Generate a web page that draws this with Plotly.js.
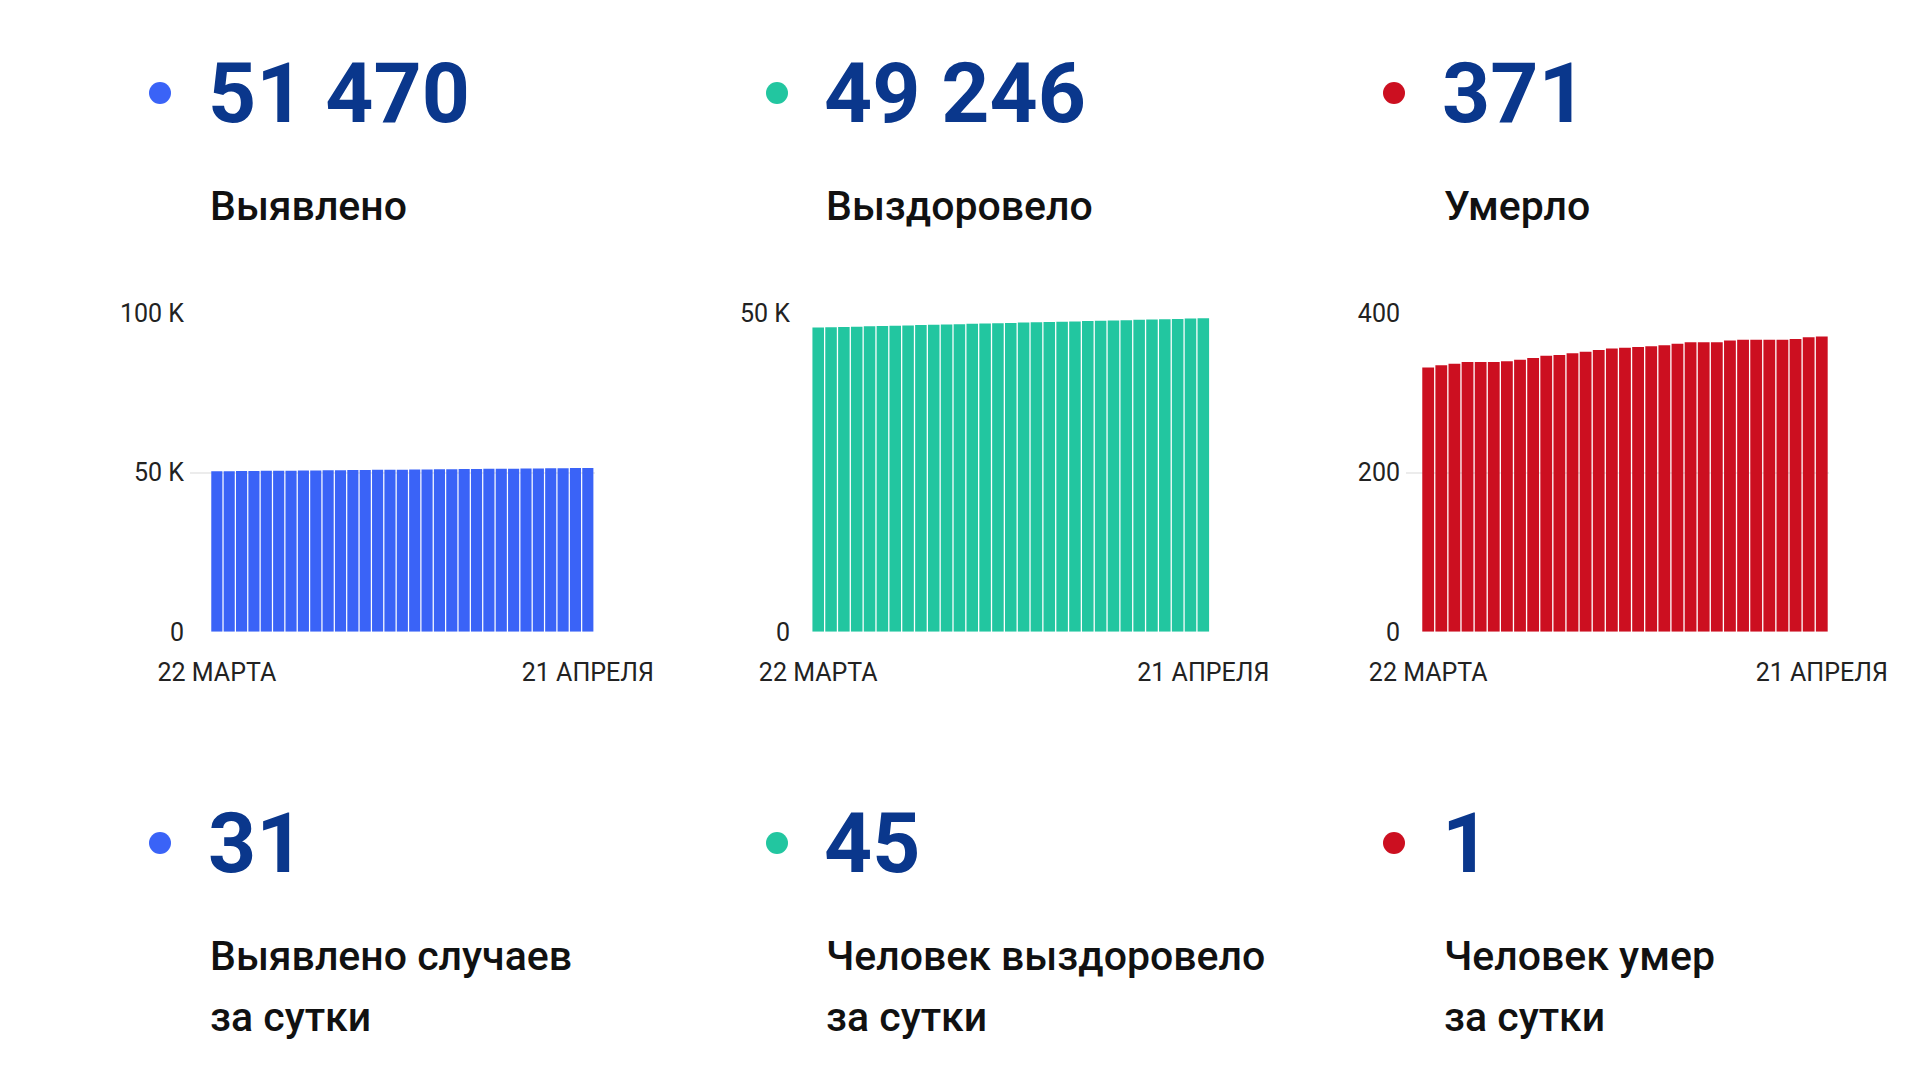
<!DOCTYPE html>
<html>
<head>
<meta charset="utf-8">
<script src="https://cdn.plot.ly/plotly-3.0.1.min.js"></script>
<style>
  html, body { margin: 0; padding: 0; background: #ffffff; }
  #chart { width: 1920px; height: 1080px; }
</style>
</head>
<body>
<div id="chart"></div>
<script>
// ---- data ----
const days = Array.from({length: 31}, (_, i) => i); // 22 марта .. 21 апреля
const dateTickVals = [0, 30];
const dateTickText = ["22 МАРТА", "21 АПРЕЛЯ"];

const detected = [50420, 50456, 50491, 50527, 50562, 50597, 50633, 50668, 50703, 50738,
                  50774, 50809, 50844, 50879, 50914, 50949, 50984, 51019, 51054, 51089,
                  51124, 51159, 51194, 51229, 51264, 51299, 51334, 51369, 51404, 51439, 51470];
const recovered = [47790, 47838, 47889, 47937, 47985, 48034, 48082, 48130, 48181, 48229,
                   48276, 48325, 48374, 48422, 48470, 48519, 48568, 48616, 48664, 48713,
                   48762, 48810, 48858, 48907, 48956, 49004, 49053, 49102, 49152, 49201, 49246];
const died = [332, 335, 337, 339, 339, 339, 340, 342, 344, 347,
              348, 350, 352, 354, 356, 357, 358, 359, 360, 362,
              364, 364, 364, 366, 367, 367, 367, 367, 368, 370, 371];

const totals = ["51 470", "49 246", "371"];
const totalLabels = ["Выявлено", "Выздоровело", "Умерло"];
const daily = ["31", "45", "1"];
const dailyLabels1 = ["Выявлено случаев", "Человек выздоровело", "Человек умер"];
const dailyLabels2 = ["за сутки", "за сутки", "за сутки"];

const yTicks1 = [0, 50000, 100000], yText1 = ["0", "50 K", "100 K"];
const yTicks2 = [0, 50000],          yText2 = ["0", "50 K"];
const yTicks3 = [0, 200, 400],       yText3 = ["0", "200", "400"];

// ---- styling ----
const W = 1920, H = 1080;
const colors = ["#3a63f7", "#22c6a0", "#cc0f20"];
const numColor = "#0a378c";
const txtColor = "#111111";
const font = "Roboto, 'Noto Sans', sans-serif";
const px = v => v / W;
const py = v => 1 - v / H;

const plotBox = [
  {x0: 190, x1: 595, range: [-2.17, 30.58]},
  {x0: 796, x1: 1210, range: [-1.73, 30.52]},
  {x0: 1406, x1: 1829, range: [-1.69, 30.55]}
];
const yTop = 313.5, yBot = 631.8;

function xaxis(i) {
  return {
    domain: [px(plotBox[i].x0), px(plotBox[i].x1)],
    anchor: i === 0 ? "y" : "y" + (i + 1),
    range: plotBox[i].range,
    tickmode: "array", tickvals: dateTickVals, ticktext: dateTickText,
    showgrid: false, zeroline: false, showline: false,
    ticks: "", ticklabelstandoff: 23,
    tickfont: {family: font, size: 25, color: "#222"},
    fixedrange: true
  };
}
function yaxis(i, range, tv, tt) {
  return {
    domain: [py(yBot), py(yTop)],
    anchor: i === 0 ? "x" : "x" + (i + 1),
    range: range,
    tickmode: "array", tickvals: tv, ticktext: tt,
    showgrid: true, gridcolor: "#ececec", gridwidth: 2,
    zeroline: false, showline: false, ticks: "",
    ticklabelstandoff: 5,
    tickfont: {family: font, size: 25, color: "#222"},
    fixedrange: true
  };
}

const series = [detected, recovered, died];
const traces = series.map((s, i) => ({
  type: "bar", x: days, y: s,
  xaxis: i === 0 ? "x" : "x" + (i + 1),
  yaxis: i === 0 ? "y" : "y" + (i + 1),
  marker: {color: colors[i], line: {width: 0}},
  hoverinfo: "skip", showlegend: false
}));

const colX = [206, 822, 1440];
const labX = [208, 824, 1442];
const dotX = [160, 777, 1394];
const annotations = [];
const shapes = [];
for (let i = 0; i < 3; i++) {
  annotations.push({text: "<b>" + totals[i] + "</b>", x: px(colX[i]), y: py(93), xref: "paper", yref: "paper",
    xanchor: "left", yanchor: "middle", showarrow: false,
    font: {family: font, size: 84, color: numColor, weight: 700}});
  annotations.push({text: totalLabels[i], x: px(labX[i]), y: py(206), xref: "paper", yref: "paper",
    xanchor: "left", yanchor: "middle", showarrow: false,
    font: {family: font, size: 41, color: txtColor, weight: 500}});
  annotations.push({text: "<b>" + daily[i] + "</b>", x: px(colX[i]), y: py(843), xref: "paper", yref: "paper",
    xanchor: "left", yanchor: "middle", showarrow: false,
    font: {family: font, size: 84, color: numColor, weight: 700}});
  annotations.push({text: dailyLabels1[i], x: px(labX[i]), y: py(956), xref: "paper", yref: "paper",
    xanchor: "left", yanchor: "middle", showarrow: false,
    font: {family: font, size: 41, color: txtColor, weight: 500}});
  annotations.push({text: dailyLabels2[i], x: px(labX[i]), y: py(1017), xref: "paper", yref: "paper",
    xanchor: "left", yanchor: "middle", showarrow: false,
    font: {family: font, size: 41, color: txtColor, weight: 500}});
  [93, 843].forEach(cy => shapes.push({type: "circle", xref: "paper", yref: "paper",
    x0: px(dotX[i] - 11), x1: px(dotX[i] + 11), y0: py(cy + 11), y1: py(cy - 11),
    fillcolor: colors[i], line: {width: 0}}));
}

const layout = {
  width: W, height: H,
  margin: {l: 0, r: 0, t: 0, b: 0},
  paper_bgcolor: "#ffffff", plot_bgcolor: "rgba(0,0,0,0)",
  bargap: 0.1,
  showlegend: false,
  xaxis: xaxis(0), xaxis2: xaxis(1), xaxis3: xaxis(2),
  yaxis: yaxis(0, [0, 100000], yTicks1, yText1),
  yaxis2: yaxis(1, [0, 50000], yTicks2, yText2),
  yaxis3: yaxis(2, [0, 400], yTicks3, yText3),
  annotations: annotations,
  shapes: shapes,
  font: {family: font}
};

Plotly.newPlot("chart", traces, layout, {displayModeBar: false, staticPlot: true});
</script>
</body>
</html>
